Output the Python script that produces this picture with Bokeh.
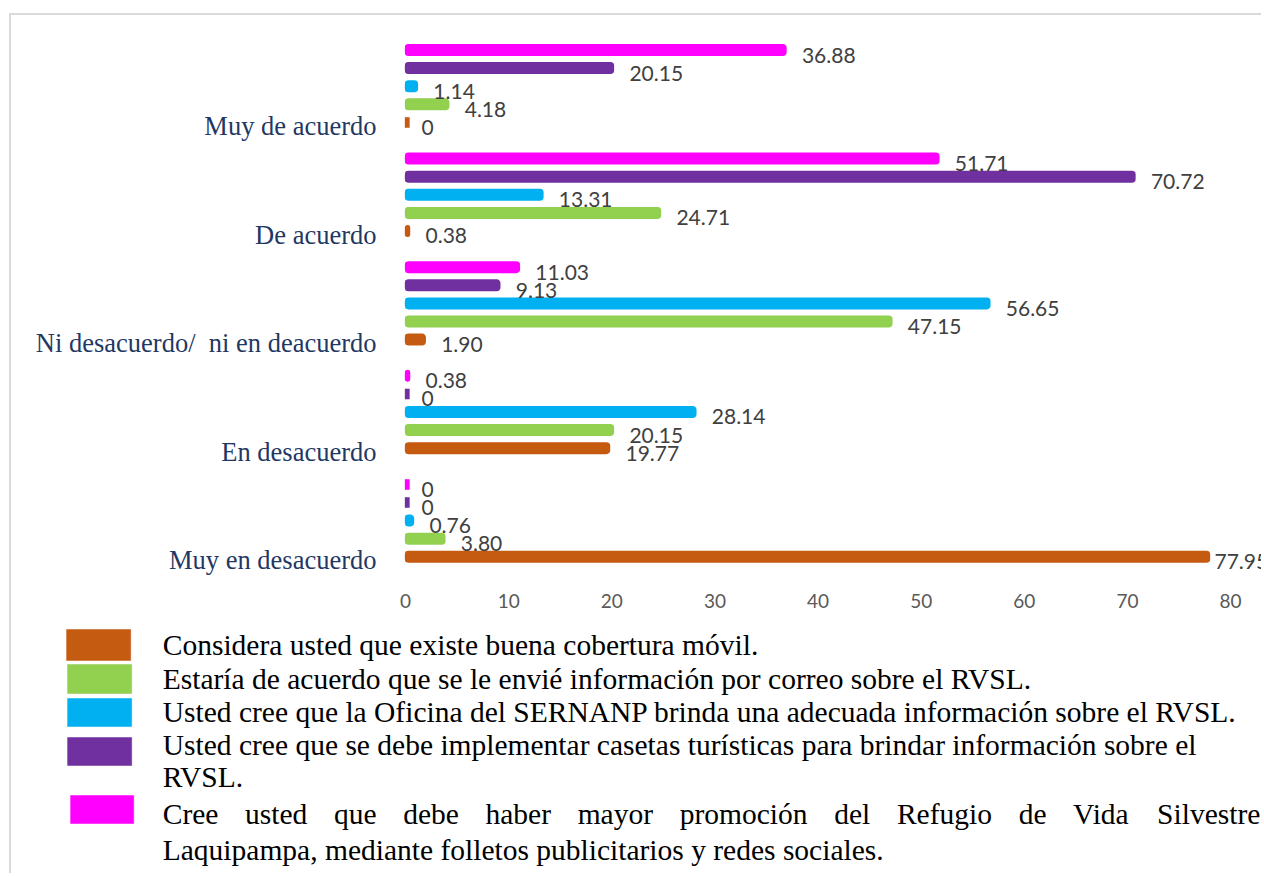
from bokeh.plotting import figure
from bokeh.models import Range1d, FixedTicker, ColumnDataSource
from bokeh.core.properties import value
from bokeh.embed import file_html
from bokeh.resources import INLINE

# ---------------- data ----------------
categories = ["Muy de acuerdo", "De acuerdo", "Ni desacuerdo/\u00a0 ni en deacuerdo",
              "En desacuerdo", "Muy en desacuerdo"]
series_names = [
    "Considera usted que existe buena cobertura móvil.",
    "Estaría de acuerdo que se le envié información por correo sobre el RVSL.",
    "Usted cree que la Oficina del SERNANP brinda una adecuada información sobre el RVSL.",
    "Usted cree que se debe implementar casetas turísticas para brindar información sobre el\nRVSL.",
    "Cree usted que debe haber mayor promoción del Refugio de Vida Silvestre Laquipampa, mediante folletos publicitarios y redes sociales.",
]
series_colors = ["#C55A11", "#92D050", "#00B0F0", "#7030A0", "#FF00FF"]
cobertura = [0, 0.38, 1.90, 19.77, 77.95]
correo = [4.18, 24.71, 47.15, 20.15, 3.80]
oficina = [1.14, 13.31, 56.65, 28.14, 0.76]
casetas = [20.15, 70.72, 9.13, 0, 0]
promocion = [36.88, 51.71, 11.03, 0.38, 0]
x_ticks = [0, 10, 20, 30, 40, 50, 60, 70, 80]

series = [cobertura, correo, oficina, casetas, promocion]

# ---------------- layout constants ----------------
GROUP = 6          # rows per category (5 bars + gap)
W = 1252
BORDER = {"border-left": "2px solid #d9d9d9", "margin-left": "9px"}

rows, vals, cols, labels, xoffs = [], [], [], [], []
for g in range(len(categories)):
    for s, ser in enumerate(series):
        v = ser[g]
        rows.append(g * GROUP + (4 - s))
        vals.append(v)
        cols.append(series_colors[s])
        labels.append("0" if v == 0 else f"{v:.2f}")
        xoffs.append(5 if v > 75 else 16)

src = ColumnDataSource(dict(row=rows, val=vals, color=cols, label=labels, xoff=xoffs))

p1 = figure(width=W, height=600,
            x_range=Range1d(-0.3, 83.19), y_range=Range1d(29.2, -0.967),
            output_backend="svg", toolbar_location=None,
            min_border_left=391, min_border_right=0,
            min_border_top=17, min_border_bottom=37,
            styles=dict(BORDER, **{"border-top": "2px solid #d9d9d9", "margin-top": "13px"}))
p1.outline_line_color = None
p1.grid.grid_line_color = None

# small base cap of every bar (visible where the value is 0)
p1.rect(x=0.2, y="row", width=4, width_units="screen", height=0.58,
        fill_color="color", line_color=None, source=src)
p1.hbar(y="row", left=0, right="val", height=0.58, fill_color="color",
        line_color="color", line_width=1.5, border_radius=3, source=src)
p1.text(x="val", y="row", text="label", x_offset="xoff", y_offset=5,
        text_font=value("Lato"), text_font_size="21px", text_color="#404040",
        text_baseline="middle", source=src)

cat_ticks = [g * GROUP + 4.2 for g in range(len(categories))]
p1.yaxis.ticker = FixedTicker(ticks=cat_ticks)
p1.yaxis.major_label_overrides = {t: c for t, c in zip(cat_ticks, categories)}
p1.yaxis.major_label_text_font = "Liberation Serif"
p1.yaxis.major_label_text_font_size = "26.5px"
p1.yaxis.major_label_text_color = "#1F3864"
p1.yaxis.major_label_standoff = 26
p1.yaxis.major_tick_out = 0
p1.yaxis.major_tick_in = 0
p1.yaxis.axis_line_color = None
p1.yaxis.major_tick_line_color = None
p1.yaxis.minor_tick_line_color = None

p1.xaxis.ticker = FixedTicker(ticks=x_ticks)
p1.xaxis.major_label_text_font = "Lato"
p1.xaxis.major_label_text_font_size = "19px"
p1.xaxis.major_label_text_color = "#595959"
p1.xaxis.major_label_standoff = 9
p1.xaxis.axis_line_color = None
p1.xaxis.major_tick_line_color = None
p1.xaxis.minor_tick_line_color = None

# ---------------- legend (own figure, screen-like coords) ----------------
Y0 = 613
H2 = 260
p2 = figure(width=W, height=H2, x_range=Range1d(11, 11 + W - 2), y_range=Range1d(Y0 + H2, Y0),
            output_backend="svg", toolbar_location=None, min_border=0,
            x_axis_type=None, y_axis_type=None, styles=BORDER)
p2.outline_line_color = None
p2.grid.visible = False

sw_left = [66, 67, 67, 67, 70]
sw_right = [130, 131, 131, 131, 133]
sw_top = [629, 664, 698, 737, 795]
sw_bottom = [660, 693, 726, 765, 823]
p2.quad(left=sw_left, right=sw_right, top=sw_top, bottom=sw_bottom,
        fill_color=series_colors, line_color=series_colors, line_alpha=0.5)

FS = 29.5
TX = 162
MID = 0.34 * FS    # distance from alphabetic baseline to text middle
lines = [series_names[0], series_names[1], series_names[2]] + series_names[3].split("\n")
baselines = [654.3, 688.3, 721.7, 755, 786.7]
last_words = series_names[4].split()
just_words = last_words[:12]
second_line = " ".join(last_words[12:])

p2.text(x=[TX] * len(lines), y=[b - MID for b in baselines], text=lines,
        text_font=value("Liberation Serif"), text_font_size=f"{FS}px",
        text_color="#000000", text_baseline="middle")

# Times / Liberation Serif advance widths (1/1000 em) for the justified line
M = dict(a=444, b=500, c=444, d=500, e=444, f=333, g=500, h=500, i=278, l=278,
         m=778, n=500, o=500, p=500, q=500, r=333, s=389, t=278, u=500, v=500,
         y=500, C=667, R=667, V=722, S=556)
M["ó"] = 500
widths = [sum(M.get(ch, 500) for ch in w) / 1000 * FS for w in just_words]
right_edge = 1258
gap = (right_edge - TX - sum(widths)) / (len(just_words) - 1)
xs, x = [], TX
for wd in widths:
    xs.append(x)
    x += wd + gap

p2.text(x=xs, y=[823.3 - MID] * len(xs), text=just_words,
        text_font=value("Liberation Serif"), text_font_size=f"{FS}px",
        text_color="#000000", text_baseline="middle")
p2.text(x=[TX], y=[859.3 - MID], text=[second_line],
        text_font=value("Liberation Serif"), text_font_size=f"{FS}px",
        text_color="#000000", text_baseline="middle")

open("out.html", "w").write(file_html([p1, p2], INLINE, title="chart"))
